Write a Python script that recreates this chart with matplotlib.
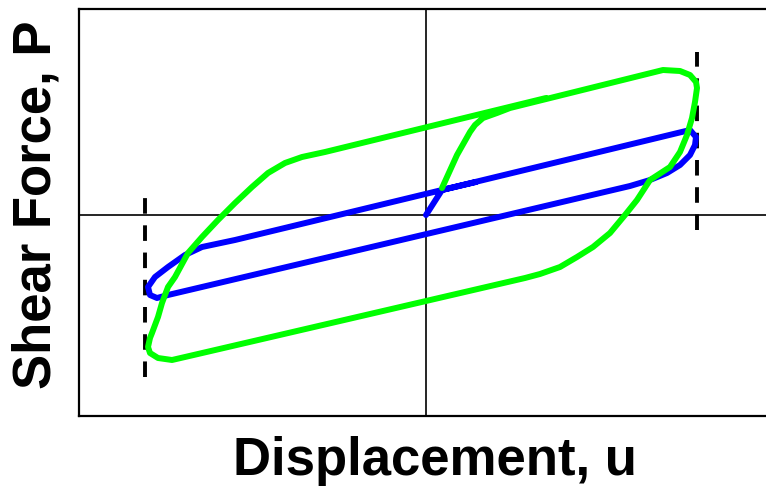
import matplotlib as mp
mp.use('Agg')
import matplotlib.pyplot as plt

# hysteresis loops, displacement u vs shear force P (arbitrary units)
blue_u = [0.0, 0.16, 2.64, 2.70, 2.69, 2.64, 2.54, 2.41, 2.24, 2.04,
          -2.58, -2.69, -2.76, -2.78, -2.71, -2.58, -2.41, -2.24, -1.91, 0.16, 0.5]
blue_p = [0.0, 0.25, 0.85, 0.78, 0.70, 0.60, 0.50, 0.42, 0.35, 0.29,
          -0.80, -0.83, -0.80, -0.72, -0.62, -0.52, -0.40, -0.32, -0.25, 0.25, 0.33]

green_u = [0.16, 0.31, 0.44, 0.49, 0.57, 0.71, 0.84, 2.37, 2.54, 2.64, 2.70,
           2.71, 2.69, 2.66, 2.61, 2.54, 2.44, 2.24, 2.11, 1.99, 1.84, 1.67,
           1.51, 1.34, 1.14, 0.99, -2.41, -2.54, -2.68, -2.76, -2.78, -2.76,
           -2.74, -2.68, -2.64, -2.58, -2.51, -2.38, -2.24, -2.08, -1.91,
           -1.74, -1.58, -1.41, -1.24, -1.01, 1.2]
green_p = [0.27, 0.60, 0.83, 0.90, 0.97, 1.02, 1.07, 1.45, 1.44, 1.40, 1.33,
           1.27, 1.13, 0.97, 0.80, 0.63, 0.48, 0.35, 0.15, 0.00, -0.18, -0.32,
           -0.42, -0.52, -0.59, -0.63, -1.42, -1.45, -1.43, -1.38, -1.32, -1.23,
           -1.18, -1.02, -0.88, -0.72, -0.62, -0.38, -0.22, -0.05, 0.12,
           0.28, 0.42, 0.52, 0.58, 0.63, 1.17]

# displacement limits (dashed)
limit_u = [-2.81, 2.71]
limit_lo = [-1.62, -0.15]
limit_hi = [0.20, 1.63]

fig = plt.figure(figsize=(7.66, 4.91), dpi=100)
ax = fig.add_axes([79/766, 1-416/491, (770-79)/766, (416-9)/491])

ax.axhline(0, color='black', lw=1.2, zorder=1)
ax.axvline(0, color='black', lw=1.2, zorder=1)
for u, lo, hi in zip(limit_u, limit_lo, limit_hi):
    ax.plot([u, u], [lo, hi], color='black', lw=2.8, dashes=(4, 3), zorder=2)

ax.plot(blue_u, blue_p, color='#0000ff', lw=4.3, solid_capstyle='round',
        solid_joinstyle='round', zorder=3)
ax.plot(green_u, green_p, color='#00ff00', lw=4.3, solid_capstyle='round',
        solid_joinstyle='round', zorder=4)

ax.set_xlim(-3.47, 3.44)
ax.set_ylim(-2.01, 2.06)
ax.set_xticks([])
ax.set_yticks([])
for s in ax.spines.values():
    s.set_linewidth(1.6)

fig.text(435/766, 1-461/491, 'Displacement, u', fontsize=38, fontweight='bold',
         family='Liberation Sans', ha='center', va='center')
fig.text(37/766, 1-205/491, 'Shear Force, P', fontsize=38, fontweight='bold',
         family='Liberation Sans', ha='center', va='center', rotation=90)

fig.savefig('out.png', dpi=100)
